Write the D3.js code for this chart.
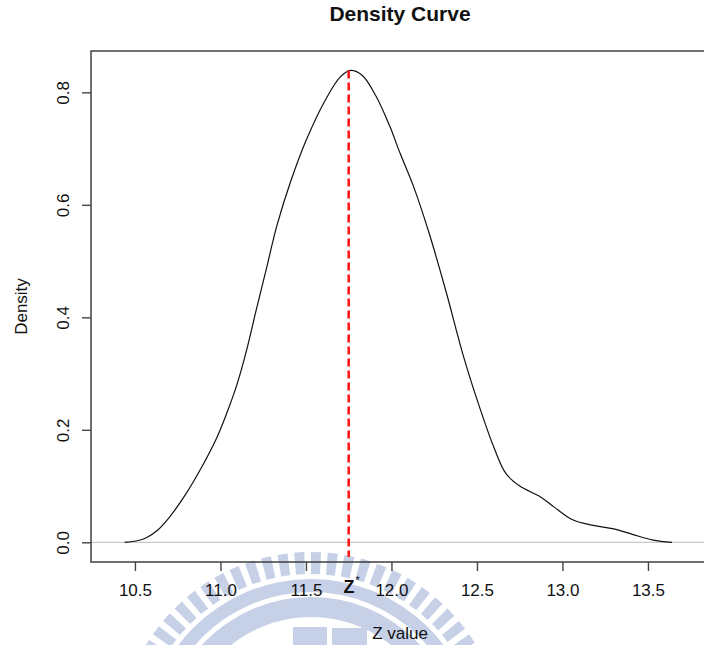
<!DOCTYPE html>
<html>
<head>
<meta charset="utf-8">
<script src="https://cdn.jsdelivr.net/npm/d3@7"></script>
<style>
    body { margin: 0; background: #fff; }
    svg text { font-family: "Liberation Sans", Arial, sans-serif; }
</style>
</head>
<body>
<svg width="704" height="645"></svg>
<script>
// density estimate
let zValues = [10.44, 10.55, 10.63, 10.70, 10.80, 10.88, 10.98, 11.04, 11.10, 11.15,
    11.21, 11.27, 11.33, 11.41, 11.50, 11.62, 11.70, 11.76, 11.83, 11.91,
    11.99, 12.05, 12.13, 12.22, 12.32, 12.42, 12.52, 12.60, 12.67, 12.75,
    12.87, 12.95, 13.06, 13.18, 13.30, 13.41, 13.53, 13.64];
let densities = [0.000, 0.006, 0.021, 0.044, 0.087, 0.128, 0.187, 0.232, 0.284, 0.338,
    0.414, 0.488, 0.563, 0.641, 0.714, 0.790, 0.827, 0.839, 0.830, 0.793,
    0.740, 0.692, 0.632, 0.550, 0.445, 0.332, 0.236, 0.168, 0.122, 0.100,
    0.081, 0.063, 0.040, 0.030, 0.024, 0.014, 0.004, 0.000];
let xTicks = [10.5, 11.0, 11.5, 12.0, 12.5, 13.0, 13.5];
let yTicks = [0.0, 0.2, 0.4, 0.6, 0.8];
let zStar = 11.75;
let zStarDensity = 0.839;

let svg = d3.select("svg"),
    margin = {top: 51, right: -5, bottom: 83, left: 91},
    width = +svg.attr("width") - margin.left - margin.right,
    height = +svg.attr("height") - margin.top - margin.bottom;

let x = d3.scaleLinear().domain([10.243, 13.857]).range([0, width]);
let y = d3.scaleLinear().domain([-0.035, 0.8735]).range([height, 0]);

// faint watermark logo behind everything
let mark = svg.append("g")
    .attr("transform", "translate(311,745)")
    .attr("fill", "#c6d0e7");
let nBars = 72;
for (let i = 0; i < nBars; i++) {
    let a = i * 2 * Math.PI / nBars;
    mark.append("path")
        .attr("d", d3.arc()({innerRadius: 171, outerRadius: 193, startAngle: a, endAngle: a + 0.6 * 2 * Math.PI / nBars}));
}
mark.append("path").attr("d", d3.arc()({innerRadius: 153, outerRadius: 166, startAngle: 0, endAngle: 2 * Math.PI}));
mark.append("path").attr("d", d3.arc()({innerRadius: 128, outerRadius: 148, startAngle: 0, endAngle: 2 * Math.PI}));
mark.append("rect").attr("x", -18).attr("y", -118).attr("width", 34).attr("height", 30);
mark.append("rect").attr("x", 21).attr("y", -117).attr("width", 35).attr("height", 30);

let g = svg.append("g").attr("transform", "translate(" + margin.left + "," + margin.top + ")");

// horizontal zero line
g.append("line")
    .attr("x1", 0).attr("x2", width)
    .attr("y1", y(0)).attr("y2", y(0))
    .attr("stroke", "#c8c8c8")
    .attr("stroke-width", 1.2);

// density curve
let line = d3.line()
    .x((d, i) => x(zValues[i]))
    .y(d => y(d))
    .curve(d3.curveCatmullRom.alpha(0.5));

g.append("path")
    .datum(densities)
    .attr("fill", "none")
    .attr("stroke", "#111")
    .attr("stroke-width", 1.2)
    .attr("d", line);

// z* marker
g.append("line")
    .attr("x1", x(zStar)).attr("x2", x(zStar))
    .attr("y1", y(zStarDensity)).attr("y2", y(-0.026))
    .attr("stroke", "#ff1a1a")
    .attr("stroke-width", 2.6)
    .attr("stroke-dasharray", "8,4");

// box
g.append("rect")
    .attr("width", width).attr("height", height)
    .attr("fill", "none")
    .attr("stroke", "#333")
    .attr("stroke-width", 1.4);

// x axis
let xAxis = g.append("g")
    .attr("transform", "translate(0," + height + ")")
    .call(d3.axisBottom(x).tickValues(xTicks).tickSize(9).tickPadding(13).tickFormat(d3.format(".1f")));
xAxis.select(".domain").remove();
xAxis.selectAll(".tick line").attr("stroke", "#444").attr("stroke-width", 1.4);
xAxis.selectAll("text").attr("font-size", 17).attr("fill", "#111")
    .attr("font-family", "Liberation Sans, Arial, sans-serif");

// y axis, labels parallel to the axis
let yAxis = g.append("g")
    .call(d3.axisLeft(y).tickValues(yTicks).tickSize(9).tickFormat(d3.format(".1f")));
yAxis.select(".domain").remove();
yAxis.selectAll(".tick line").attr("stroke", "#444").attr("stroke-width", 1.4);
yAxis.selectAll("text")
    .attr("font-size", 17).attr("fill", "#111")
    .attr("font-family", "Liberation Sans, Arial, sans-serif")
    .attr("text-anchor", "middle")
    .attr("x", 0).attr("y", -22).attr("dy", 0)
    .attr("transform", "rotate(-90)");

// z* label under the axis
let zLabel = g.append("text")
    .attr("x", x(zStar) + 3)
    .attr("y", height + 31)
    .attr("text-anchor", "middle")
    .attr("fill", "#111");
zLabel.append("tspan").attr("font-weight", "bold").attr("font-size", 18).text("Z");
zLabel.append("tspan").attr("font-size", 11).attr("dy", -9).attr("dx", 1).text("*");

// titles
svg.append("text")
    .attr("x", margin.left + width / 2)
    .attr("y", 21)
    .attr("text-anchor", "middle")
    .attr("font-weight", "bold")
    .attr("font-size", 21)
    .attr("fill", "#111")
    .text("Density Curve");

svg.append("text")
    .attr("x", margin.left + width / 2)
    .attr("y", 639)
    .attr("text-anchor", "middle")
    .attr("font-size", 17)
    .attr("fill", "#111")
    .text("Z value");

svg.append("text")
    .attr("transform", "translate(27," + (margin.top + height / 2) + ") rotate(-90)")
    .attr("text-anchor", "middle")
    .attr("font-size", 17)
    .attr("fill", "#111")
    .text("Density");
</script>
</body>
</html>
